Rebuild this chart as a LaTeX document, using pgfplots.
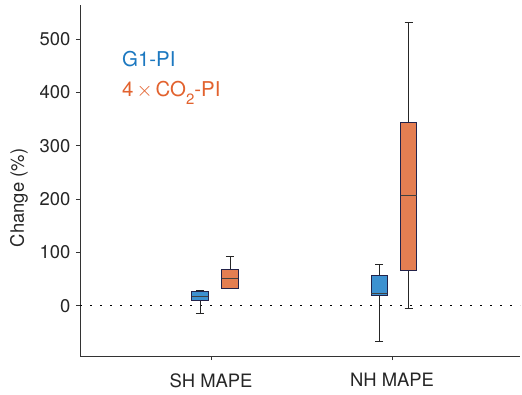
\documentclass[border=0pt]{standalone}
\usepackage{fontspec}
\setmainfont{TeX Gyre Heros}
\usepackage{pgfplots}
\pgfplotsset{compat=1.18}
\usepgfplotslibrary{statistics}
\usetikzlibrary{calc}

\definecolor{gblue}{HTML}{3D91D0}
\definecolor{corange}{HTML}{E47E52}
\definecolor{edge}{HTML}{22224A}
\definecolor{tblue}{HTML}{1C78C0}
\definecolor{torange}{HTML}{E2622E}

\newcommand{\lbl}{\fontsize{18.5}{20}\selectfont}
\newcommand{\leg}{\fontsize{20.5}{22}\selectfont}

\begin{document}
\begin{tikzpicture}[x=1bp,y=1bp]
\begin{axis}[
  scale only axis,
  width=440bp, height=351bp,
  xmin=0.276, xmax=2.707,
  ymin=-94, ymax=564,
  axis x line*=bottom, axis y line*=left,
  axis line style={line width=0.8bp, black!80},
  tick style={line width=0.8bp, black!80},
  tick align=outside,
  major tick length=4bp,
  xtick={1,2}, xticklabels={SH MAPE, NH MAPE},
  ytick={0,100,200,300,400,500},
  tick label style={font=\lbl, black!85},
  yticklabel style={xshift=-2bp},
  xticklabel style={yshift=-10bp},
  /pgf/number format/assume math mode=true,
  boxplot/draw direction=y,
  clip=false,
]
% zero reference line
\addplot[black, line width=0.9bp, dash pattern=on 1.5bp off 8.5bp, forget plot]
  coordinates {(0.276,0) (2.707,0)};

% SH MAPE, G1-PI
\addplot[draw=edge, line width=1bp, fill=gblue,
  boxplot prepared={draw position=0.939, box extend=0.09, whisker extend=0.045,
    lower whisker=-14, lower quartile=10, median=17, upper quartile=26, upper whisker=28},
  boxplot/every median/.style={draw=black!75, line width=1.2bp},
  boxplot/every whisker/.style={draw=black!85, line width=0.9bp}]
  coordinates {};
% SH MAPE, 4xCO2-PI
\addplot[draw=edge, line width=1bp, fill=corange,
  boxplot prepared={draw position=1.105, box extend=0.09, whisker extend=0.045,
    lower whisker=32, lower quartile=32, median=51, upper quartile=69, upper whisker=92},
  boxplot/every median/.style={draw=black!75, line width=1.2bp},
  boxplot/every whisker/.style={draw=black!85, line width=0.9bp}]
  coordinates {};
% NH MAPE, G1-PI
\addplot[draw=edge, line width=1bp, fill=gblue,
  boxplot prepared={draw position=1.929, box extend=0.09, whisker extend=0.045,
    lower whisker=-66, lower quartile=19, median=23, upper quartile=56, upper whisker=77},
  boxplot/every median/.style={draw=black!75, line width=1.2bp},
  boxplot/every whisker/.style={draw=black!85, line width=0.9bp}]
  coordinates {};
% NH MAPE, 4xCO2-PI
\addplot[draw=edge, line width=1bp, fill=corange,
  boxplot prepared={draw position=2.092, box extend=0.09, whisker extend=0.045,
    lower whisker=-5, lower quartile=67, median=207, upper quartile=343, upper whisker=532},
  boxplot/every median/.style={draw=black!75, line width=1.2bp},
  boxplot/every whisker/.style={draw=black!85, line width=0.9bp}]
  coordinates {};

\node[anchor=base west, text=tblue, font=\leg, inner sep=0pt]
  at (axis cs:0.508,448) {G1-PI};
\node[anchor=base west, text=torange, font=\leg, inner sep=0pt]
  at (axis cs:0.508,393) {4\hspace{3bp}$\times$\hspace{3bp}CO\raisebox{-0.42em}{\fontsize{15}{16}\selectfont 2}-PI};

\coordinate (A) at (rel axis cs:0,0);
\coordinate (B) at (rel axis cs:1,1);
\end{axis}
% y-axis title
\node[font=\lbl, text=black!85, inner sep=0pt, rotate=90]
  at ($(A)+(-61bp,158bp)$) {Change (\%)};
\pgfresetboundingbox
\path ($(A)+(-80bp,-39bp)$) rectangle ($(B)+(2bp,5bp)$);
\end{tikzpicture}
\end{document}
